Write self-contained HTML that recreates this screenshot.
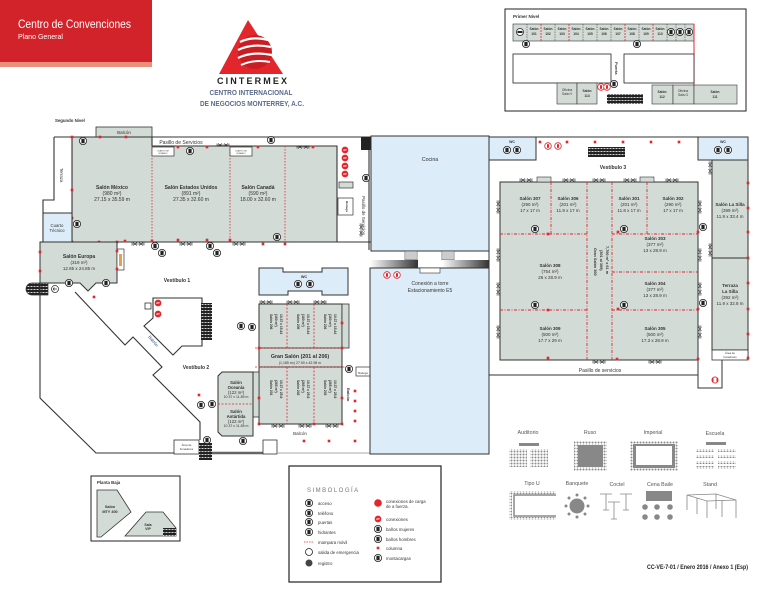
<!DOCTYPE html>
<html><head><meta charset="utf-8"><style>
html,body{margin:0;padding:0;background:#fff;}
svg{display:block;}
text{font-family:"Liberation Sans",sans-serif;}
.b{font-weight:bold;}
</style></head><body>
<svg width="772" height="595" viewBox="0 0 772 595" xmlns="http://www.w3.org/2000/svg">
<defs>
<pattern id="dots" width="3" height="3" patternUnits="userSpaceOnUse"><circle cx="1.5" cy="1.5" r="1" fill="#8a8a8a"/></pattern>
<pattern id="hatch" width="3" height="3" patternUnits="userSpaceOnUse"><rect width="3" height="3" fill="#222"/><rect x="0.5" y="1" width="2" height="0.8" fill="#fff"/></pattern>
<linearGradient id="gr" x1="0" x2="1" y1="0" y2="0"><stop offset="0" stop-color="#fff"/><stop offset="1" stop-color="#333"/></linearGradient>
<g id="ic"><circle r="3.6" fill="#fff" stroke="#222" stroke-width="0.8"/><rect x="-1.6" y="-2.2" width="3.2" height="4.4" fill="#222"/></g>
<g id="at"><circle r="3.6" fill="#e3262d" stroke="#fff" stroke-width="0.5"/><text x="0" y="1.2" font-size="3" fill="#fff" text-anchor="middle" class="b">AT</text></g>
<g id="ex"><circle r="3.3" fill="#fff" stroke="#e3262d" stroke-width="0.8"/><rect x="-1" y="-1.8" width="2" height="3.6" fill="#e3262d"/></g>
<rect id="rd" x="-1.3" y="-1.3" width="2.6" height="2.6" fill="#e3262d"/>
<g id="dh"><path d="M-6,-1.5 V1.5 M6,-1.5 V1.5 M-6,0 H6 M-5,-1.5 L-1,1.5 M-1,-1.5 L-5,1.5 M1,-1.5 L5,1.5 M5,-1.5 L1,1.5" stroke="#333" stroke-width="0.6" fill="none"/></g>
<g id="dv"><path d="M-1.5,-6 H1.5 M-1.5,6 H1.5 M0,-6 V6 M-1.5,-5 L1.5,-1 M1.5,-5 L-1.5,-1 M-1.5,1 L1.5,5 M1.5,1 L-1.5,5" stroke="#333" stroke-width="0.6" fill="none"/></g>
</defs>

<!-- HEADER -->
<rect x="0" y="0" width="152" height="62" fill="#d2232a"/>
<rect x="0" y="62" width="152" height="5" fill="#e8907e"/>
<text x="18" y="28" font-size="12" fill="#fff" textLength="113" lengthAdjust="spacingAndGlyphs">Centro de Convenciones</text>
<text x="18" y="39" font-size="7.5" fill="#fff" textLength="45" lengthAdjust="spacingAndGlyphs">Plano General</text>

<!-- LOGO -->
<polygon points="248,20 219,74 283,74" fill="#e2262b"/>
<circle cx="255" cy="52" r="17" fill="#c91d23"/>
<path d="M240,42 Q252,36 268,40" stroke="#fff" stroke-width="2.2" fill="none"/>
<path d="M238,50 Q252,43 271,47" stroke="#fff" stroke-width="2.2" fill="none"/>
<path d="M238,58 Q252,51 272,55" stroke="#fff" stroke-width="2.2" fill="none"/>
<path d="M241,65 Q254,59 270,62" stroke="#fff" stroke-width="2" fill="none"/>
<text x="252" y="84" font-size="9" class="b" fill="#222" text-anchor="middle" textLength="70" lengthAdjust="spacing">CINTERMEX</text>
<text x="251" y="95" font-size="7.5" class="b" fill="#5b6b8c" text-anchor="middle" textLength="83" lengthAdjust="spacingAndGlyphs">CENTRO INTERNACIONAL</text>
<text x="252" y="106" font-size="7.5" class="b" fill="#5b6b8c" text-anchor="middle" textLength="104" lengthAdjust="spacingAndGlyphs">DE NEGOCIOS MONTERREY, A.C.</text>

<!-- PRIMER NIVEL -->
<rect x="505" y="9" width="241" height="102" fill="#fff" stroke="#222" stroke-width="1"/>
<text x="513" y="18" font-size="4.5" class="b" fill="#333">Primer Nivel</text>
<rect x="513" y="24" width="181" height="17" fill="#d3dbd6" stroke="#333" stroke-width="0.6"/>
<g stroke="#333" stroke-width="0.5" stroke-dasharray="1.5,1">
<line x1="527" y1="24" x2="527" y2="41"/><line x1="555" y1="24" x2="555" y2="41"/><line x1="583" y1="24" x2="583" y2="41"/><line x1="597" y1="24" x2="597" y2="41"/><line x1="611" y1="24" x2="611" y2="41"/><line x1="639" y1="24" x2="639" y2="41"/><line x1="667" y1="24" x2="667" y2="41"/><line x1="676" y1="24" x2="676" y2="41"/><line x1="685" y1="24" x2="685" y2="41"/>
</g>
<g stroke="#e3262d" stroke-width="0.8" stroke-dasharray="2,1">
<line x1="541" y1="24" x2="541" y2="41"/><line x1="569" y1="24" x2="569" y2="41"/><line x1="625" y1="24" x2="625" y2="41"/><line x1="653" y1="24" x2="653" y2="41"/>
</g>
<g font-size="3.3" class="b" fill="#333" text-anchor="middle">
<text x="534" y="30">Salón</text><text x="534" y="35">101</text>
<text x="548" y="30">Salón</text><text x="548" y="35">102</text>
<text x="562" y="30">Salón</text><text x="562" y="35">103</text>
<text x="576" y="30">Salón</text><text x="576" y="35">104</text>
<text x="590" y="30">Salón</text><text x="590" y="35">105</text>
<text x="604" y="30">Salón</text><text x="604" y="35">106</text>
<text x="618" y="30">Salón</text><text x="618" y="35">107</text>
<text x="632" y="30">Salón</text><text x="632" y="35">108</text>
<text x="646" y="30">Salón</text><text x="646" y="35">109</text>
<text x="660" y="30">Salón</text><text x="660" y="35">110</text>
</g>
<circle cx="520" cy="32" r="3.5" fill="#fff" stroke="#222" stroke-width="0.8"/><rect x="517.5" y="31" width="5" height="2" fill="#222"/>
<use href="#ic" x="671" y="32"/><use href="#ic" x="680" y="32"/><use href="#ic" x="689" y="32"/>
<use href="#ic" x="526" y="44"/><use href="#ic" x="637" y="44"/>
<line x1="694" y1="24" x2="694" y2="86" stroke="#e3262d" stroke-width="1"/>
<rect x="513" y="54" width="98" height="29" fill="#fff" stroke="#222" stroke-width="0.8"/>
<rect x="624" y="54" width="70" height="29" fill="#fff" stroke="#222" stroke-width="0.8"/>
<text x="615" y="62" font-size="4" class="b" fill="#333" transform="rotate(90 615 62)">Puerta</text>
<use href="#ex" x="601" y="87"/><use href="#ex" x="607" y="87"/><use href="#ic" x="614" y="84"/>
<rect x="557" y="83" width="20" height="21" fill="#d3dbd6" stroke="#333" stroke-width="0.6"/>
<rect x="577" y="83" width="20" height="21" fill="#d3dbd6" stroke="#333" stroke-width="0.6"/>
<text x="567" y="91" font-size="3.3" fill="#333" text-anchor="middle">Oficina</text><text x="567" y="95" font-size="3.3" fill="#333" text-anchor="middle">Sala H</text>
<text x="587" y="92" font-size="3.3" class="b" fill="#333" text-anchor="middle">Salón</text><text x="587" y="97" font-size="3.3" class="b" fill="#333" text-anchor="middle">113</text>
<rect x="607" y="94" width="36" height="10" fill="url(#hatch)"/>
<rect x="652" y="85" width="21" height="19" fill="#d3dbd6" stroke="#333" stroke-width="0.6"/>
<rect x="673" y="85" width="21" height="19" fill="#d3dbd6" stroke="#333" stroke-width="0.6"/>
<rect x="694" y="85" width="43" height="19" fill="#d3dbd6" stroke="#333" stroke-width="0.6"/>
<text x="662" y="93" font-size="3.3" class="b" fill="#333" text-anchor="middle">Salón</text><text x="662" y="98" font-size="3.3" class="b" fill="#333" text-anchor="middle">112</text>
<text x="683" y="92" font-size="3.3" fill="#333" text-anchor="middle">Oficina</text><text x="683" y="96" font-size="3.3" fill="#333" text-anchor="middle">Sala G</text>
<text x="715" y="93" font-size="3.3" class="b" fill="#333" text-anchor="middle">Salón</text><text x="715" y="98" font-size="3.3" class="b" fill="#333" text-anchor="middle">111</text>

<!-- SEGUNDO NIVEL LABEL -->
<text x="55" y="122" font-size="4.3" class="b" fill="#333">Segundo Nivel</text>

<!-- LEFT WING (Mexico/EU/Canada) -->
<rect x="96" y="127" width="56" height="10" fill="#d3dbd6" stroke="#333" stroke-width="0.8"/>
<text x="124" y="134" font-size="4.5" fill="#333" text-anchor="middle">Balcón</text>
<rect x="72" y="137" width="80" height="105" fill="#d3dbd6"/>
<rect x="152" y="146" width="78" height="96" fill="#d3dbd6"/>
<rect x="230" y="146" width="55" height="96" fill="#d3dbd6"/>
<rect x="285" y="146" width="52" height="96" fill="#d3dbd6"/>
<g stroke="#333" stroke-width="1.1" fill="none">
<path d="M54,137 H372"/>
<path d="M54,137 V200 H43 V242"/>
<path d="M72,137 V242"/>
<path d="M152,146 H337 V242"/>
<path d="M40,242 H372"/>
<path d="M152,137 V146"/>
<path d="M369,150 V250"/>
</g>
<g stroke="#e3262d" stroke-width="0.8" stroke-dasharray="1.5,1.5">
<line x1="152" y1="146" x2="152" y2="242"/><line x1="230" y1="146" x2="230" y2="242"/><line x1="285" y1="146" x2="285" y2="242"/>
</g>
<rect x="361" y="137" width="11" height="13" fill="#222"/>
<rect x="152" y="147" width="22" height="9" fill="#fff" stroke="#333" stroke-width="0.7"/>
<rect x="230" y="147" width="22" height="9" fill="#fff" stroke="#333" stroke-width="0.7"/>
<text x="163" y="151.5" font-size="2" fill="#333" text-anchor="middle">CUARTO DE</text><text x="163" y="154" font-size="2" fill="#333" text-anchor="middle">BOMBEO</text>
<text x="241" y="151.5" font-size="2" fill="#333" text-anchor="middle">CUARTO DE</text><text x="241" y="154" font-size="2" fill="#333" text-anchor="middle">BOMBEO</text>
<text x="181" y="144" font-size="5" fill="#333" text-anchor="middle">Pasillo de Servicios</text>
<text x="60" y="168" font-size="4.3" fill="#333" transform="rotate(90 60 168)">Terraza</text>
<g font-size="5" fill="#333" text-anchor="middle">
<text x="112" y="189" class="b">Salón México</text><text x="112" y="195">(980 m²)</text><text x="112" y="201">27.15 x 35.59 m</text>
<text x="191" y="189" class="b">Salón Estados Unidos</text><text x="191" y="195">(891 m²)</text><text x="191" y="201">27.35 x 32.60 m</text>
<text x="258" y="189" class="b">Salón Canadá</text><text x="258" y="195">(590 m²)</text><text x="258" y="201">18.00 x 32.60 m</text>
</g>
<use href="#at" x="345" y="150"/><use href="#at" x="345" y="158"/><use href="#at" x="345" y="166"/><use href="#at" x="345" y="174"/>
<rect x="339" y="182" width="14" height="6" fill="#d3dbd6" stroke="#333" stroke-width="0.7"/>
<rect x="338" y="198" width="15" height="17" fill="#fff" stroke="#333" stroke-width="0.7"/>
<text x="346" y="201" font-size="3" class="b" fill="#333" transform="rotate(90 346 201)">Bodega</text>
<text x="362" y="196" font-size="4.5" fill="#333" transform="rotate(90 362 196)">Pasillo de Servicios</text>
<use href="#ic" x="83" y="141"/><use href="#ic" x="190" y="151"/><use href="#ic" x="271" y="140"/><use href="#ic" x="77" y="224"/><use href="#ic" x="277" y="237"/><use href="#ic" x="366" y="178"/>
<use href="#ic" x="155" y="246"/><use href="#ic" x="210" y="246"/><use href="#ic" x="162" y="253"/><use href="#ic" x="217" y="253"/>
<use href="#dh" x="223" y="145"/><use href="#dh" x="303" y="147"/><use href="#dh" x="138" y="244"/><use href="#dh" x="186" y="244"/><use href="#dh" x="239" y="244"/><use href="#dv" x="361" y="230"/>
<g>
<use href="#rd" x="72" y="137"/><use href="#rd" x="100" y="137"/><use href="#rd" x="126" y="137"/><use href="#rd" x="72" y="190"/><use href="#rd" x="72" y="218"/><use href="#rd" x="72" y="242"/><use href="#rd" x="99" y="242"/><use href="#rd" x="117" y="242"/><use href="#rd" x="125" y="241"/><use href="#rd" x="152" y="241"/><use href="#rd" x="178" y="240"/><use href="#rd" x="207" y="240"/><use href="#rd" x="230" y="240"/><use href="#rd" x="263" y="244"/><use href="#rd" x="285" y="244"/><use href="#rd" x="178" y="147"/><use href="#rd" x="207" y="147"/><use href="#rd" x="258" y="147"/><use href="#rd" x="313" y="147"/>
</g>

<!-- Cuarto tecnico / Europa -->
<rect x="43" y="213" width="29" height="29" fill="#dcedf9" stroke="#333" stroke-width="1"/>
<text x="57" y="227" font-size="4.3" fill="#333" text-anchor="middle">Cuarto</text><text x="57" y="232" font-size="4.3" fill="#333" text-anchor="middle">Técnico</text>
<polygon points="40,242 117,242 117,283 96,283 88,291 80,283 40,283" fill="#d3dbd6" stroke="#333" stroke-width="1"/>
<text x="79" y="258" font-size="5" class="b" fill="#333" text-anchor="middle">Salón Europa</text>
<text x="79" y="264" font-size="4.5" fill="#333" text-anchor="middle">(319 m²)</text>
<text x="79" y="270" font-size="4.5" fill="#333" text-anchor="middle">12.85 x 24.85 m</text>
<rect x="117" y="249" width="7" height="21" fill="#fff" stroke="#333" stroke-width="0.7"/>
<rect x="119" y="254" width="3" height="12" fill="#e8a04a"/>
<use href="#rd" x="40" y="252"/><use href="#rd" x="40" y="271"/><use href="#rd" x="117" y="251"/><use href="#rd" x="117" y="269"/><use href="#rd" x="94" y="297"/>
<use href="#ic" x="69" y="283"/><use href="#ic" x="106" y="283"/>
<path d="M32,283 H48 V295 H32 A6,6 0 0 1 32,283 Z" fill="url(#hatch)" stroke="#333" stroke-width="0.7"/>
<circle cx="55" cy="289" r="3.5" fill="#fff" stroke="#333" stroke-width="0.8"/><path d="M53,289 H57 M53,289 L54.5,287.5 M53,289 L54.5,290.5" stroke="#333" stroke-width="0.7"/>

<!-- Vestibulo outlines -->
<g stroke="#333" stroke-width="1.1" fill="none">
<path d="M40,283 V398 L96,453 H174"/>
<path d="M75,292 L125,345 L133,337 L162,367 L153,375 L200,422 V440"/>
<path d="M153,298 H202 V346 H182 L173,355 L144,326 L153,318 Z"/>
</g>
<rect x="201" y="303" width="11" height="37" fill="url(#hatch)"/>
<rect x="145" y="303" width="6" height="6" fill="#fff" stroke="#333" stroke-width="0.8"/>
<use href="#at" x="158" y="303"/><use href="#at" x="158" y="314"/>
<text x="177" y="282" font-size="5" class="b" fill="#333" text-anchor="middle">Vestíbulo 1</text>
<text x="196" y="369" font-size="5" class="b" fill="#333" text-anchor="middle">Vestíbulo 2</text>
<text x="148" y="337" font-size="4.3" fill="#2a4a8a" transform="rotate(50 148 337)">Balcón</text>
<rect x="174" y="440" width="25" height="14" fill="#fff" stroke="#333" stroke-width="0.8"/>
<text x="186.5" y="446" font-size="2.8" fill="#333" text-anchor="middle">Área de</text><text x="186.5" y="450" font-size="2.8" fill="#333" text-anchor="middle">fumadores</text>
<rect x="199" y="443" width="13" height="17" fill="url(#hatch)"/>
<line x1="212" y1="453" x2="263" y2="453" stroke="#666" stroke-width="2.5"/>
<rect x="263" y="440" width="14" height="14" fill="#fff" stroke="#333" stroke-width="0.8"/>
<line x1="277" y1="453" x2="371" y2="453" stroke="#aaa" stroke-width="1"/>
<use href="#ic" x="207" y="440"/><use href="#ic" x="243" y="441"/><use href="#ic" x="241" y="326"/><use href="#ic" x="252" y="327"/><use href="#ic" x="201" y="405"/><use href="#ic" x="212" y="404"/>

<!-- WC mid -->
<path d="M259,268 H283 V272 H322 V268 H348 V295 H322 V291 H288 V295 H259 Z" fill="#dcedf9" stroke="#333" stroke-width="1"/>
<text x="304" y="278" font-size="3.8" class="b" fill="#333" text-anchor="middle">WC</text>
<use href="#ic" x="298" y="284"/><use href="#ic" x="310" y="284"/>

<!-- GRAN SALON -->
<rect x="259" y="304" width="83" height="44" fill="#d3dbd6" stroke="#333" stroke-width="1"/>
<rect x="342" y="304" width="7" height="44" fill="#d3dbd6" stroke="#333" stroke-width="0.8"/>
<rect x="259" y="348" width="83" height="19" fill="#d3dbd6" stroke="#333" stroke-width="1"/>
<rect x="259" y="367" width="83" height="57" fill="#d3dbd6" stroke="#333" stroke-width="1"/>
<rect x="253" y="372" width="6" height="45" fill="#d3dbd6" stroke="#333" stroke-width="0.8"/>
<g stroke="#e3262d" stroke-width="0.8" stroke-dasharray="2,1.5">
<line x1="287" y1="304" x2="287" y2="348"/><line x1="314" y1="304" x2="314" y2="348"/>
<line x1="287" y1="367" x2="287" y2="424"/><line x1="314" y1="367" x2="314" y2="424"/>
<line x1="255" y1="348" x2="346" y2="348"/><line x1="255" y1="367" x2="346" y2="367"/>
</g>
<use href="#dh" x="266" y="302"/><use href="#dh" x="293" y="302"/><use href="#dh" x="320" y="302"/>
<use href="#dh" x="278" y="426"/><use href="#dh" x="305" y="426"/><use href="#dh" x="332" y="426"/>
<text x="300" y="358" font-size="5.3" class="b" fill="#333" text-anchor="middle">Gran Salón (201 al 206)</text>
<text x="300" y="364" font-size="3.5" fill="#333" text-anchor="middle">(1,185 m²) 27.50 x 42.98 m</text>
<g font-size="3.3" class="b" fill="#333">
<text x="270" y="314" transform="rotate(90 270 314)">Salón 206</text><text x="275" y="314" transform="rotate(90 275 314)">(160 m²)</text><text x="280" y="314" transform="rotate(90 280 314)">10.37 x 15.44</text>
<text x="297" y="314" transform="rotate(90 297 314)">Salón 205</text><text x="302" y="314" transform="rotate(90 302 314)">(160 m²)</text><text x="307" y="314" transform="rotate(90 307 314)">10.37 x 15.44</text>
<text x="324" y="314" transform="rotate(90 324 314)">Salón 204</text><text x="329" y="314" transform="rotate(90 329 314)">(160 m²)</text><text x="334" y="314" transform="rotate(90 334 314)">10.37 x 15.44</text>
<text x="270" y="380" transform="rotate(90 270 380)">Salón 201</text><text x="275" y="380" transform="rotate(90 275 380)">(265 m²)</text><text x="280" y="380" transform="rotate(90 280 380)">10.37 x 25.6</text>
<text x="297" y="380" transform="rotate(90 297 380)">Salón 202</text><text x="302" y="380" transform="rotate(90 302 380)">(265 m²)</text><text x="307" y="380" transform="rotate(90 307 380)">10.37 x 25.6</text>
<text x="324" y="380" transform="rotate(90 324 380)">Salón 203</text><text x="329" y="380" transform="rotate(90 329 380)">(265 m²)</text><text x="334" y="380" transform="rotate(90 334 380)">10.37 x 25.6</text>
</g>
<polygon points="222,372 253,372 253,436 222,436 218,432 218,376" fill="#d3dbd6" stroke="#333" stroke-width="1"/>
<line x1="218" y1="404" x2="253" y2="404" stroke="#e3262d" stroke-width="0.8" stroke-dasharray="2,1.5"/>
<g font-size="4.3" fill="#333" text-anchor="middle">
<text x="236" y="384" class="b">Salón</text><text x="236" y="389" class="b">Oceanía</text><text x="236" y="394">(122 m²)</text><text x="236" y="398" font-size="3.5">10.37 x 11.85 m</text>
<text x="236" y="413" class="b">Salón</text><text x="236" y="418" class="b">Antártida</text><text x="236" y="423">(122 m²)</text><text x="236" y="427" font-size="3.5">10.37 x 11.85 m</text>
</g>
<text x="300" y="435" font-size="4.5" fill="#333" text-anchor="middle">Balcón</text>
<text x="347" y="388" font-size="4" class="b" fill="#333" transform="rotate(90 347 388)">Balcón</text>
<rect x="356" y="367" width="14" height="9" fill="#fff" stroke="#333" stroke-width="0.7"/>
<text x="363" y="374" font-size="2.8" fill="#333" text-anchor="middle">Bodega</text>
<use href="#ic" x="349" y="369"/>
<use href="#rd" x="342" y="323"/><use href="#rd" x="259" y="348"/><use href="#rd" x="342" y="348"/><use href="#rd" x="259" y="398"/><use href="#rd" x="342" y="398"/><use href="#rd" x="259" y="424"/><use href="#rd" x="314" y="424"/><use href="#rd" x="342" y="424"/>
<use href="#rd" x="355" y="391"/><use href="#rd" x="355" y="401"/><use href="#rd" x="355" y="411"/><use href="#rd" x="355" y="421"/><use href="#rd" x="355" y="441"/><use href="#rd" x="329" y="441"/><use href="#rd" x="304" y="441"/><use href="#rd" x="199" y="395"/>

<!-- COCINA / CONEXION -->
<rect x="371" y="136" width="118" height="115" fill="#dcedf9" stroke="#333" stroke-width="1"/>
<text x="430" y="161" font-size="5.3" fill="#333" text-anchor="middle">Cocina</text>
<rect x="405" y="251" width="12" height="9" fill="#fff" stroke="#333" stroke-width="0.6"/>
<rect x="442" y="251" width="12" height="9" fill="#fff" stroke="#333" stroke-width="0.6"/>
<g stroke="#333" stroke-width="0.5"><path d="M407,251 V260 M409,251 V260 M411,251 V260 M413,251 V260 M415,251 V260 M444,251 V260 M446,251 V260 M448,251 V260 M450,251 V260 M452,251 V260"/></g>
<rect x="370" y="260" width="48" height="8" fill="url(#gr)"/>
<rect x="442" y="260" width="47" height="8" fill="url(#gr)"/>
<rect x="370" y="268" width="119" height="186" fill="#dcedf9" stroke="#333" stroke-width="1"/>
<rect x="420" y="268" width="20" height="5" fill="#fff" stroke="#333" stroke-width="0.6"/>
<use href="#ex" x="387" y="275"/><use href="#ex" x="397" y="275"/>
<text x="430" y="285" font-size="5" fill="#333" text-anchor="middle">Conexión a torre</text>
<text x="430" y="292" font-size="5" fill="#333" text-anchor="middle">Estacionamiento E5</text>

<!-- 300 AREA -->
<g stroke="#333" stroke-width="1" fill="none">
<path d="M536,137 H698"/>
<path d="M748,137 V360"/>
<path d="M489,251 V268"/>
<path d="M489,375 H698"/>
<path d="M698,360 V388 H722 V360"/>
</g>
<rect x="489" y="137" width="47" height="23" fill="#dcedf9" stroke="#333" stroke-width="1"/>
<rect x="698" y="137" width="50" height="23" fill="#dcedf9" stroke="#333" stroke-width="1"/>
<text x="512" y="143" font-size="3.5" class="b" fill="#333" text-anchor="middle">WC</text>
<use href="#ic" x="507" y="150"/><use href="#ic" x="517" y="150"/>
<text x="723" y="143" font-size="3.5" class="b" fill="#333" text-anchor="middle">WC</text>
<use href="#ic" x="718" y="150"/><use href="#ic" x="728" y="150"/>
<use href="#ex" x="548" y="146"/><use href="#ex" x="558" y="146"/>
<rect x="588" y="147" width="37" height="10" fill="url(#hatch)"/>
<text x="613" y="169" font-size="5" class="b" fill="#333" text-anchor="middle">Vestíbulo 3</text>
<rect x="500" y="182" width="198" height="178" fill="#d3dbd6" stroke="#333" stroke-width="1"/>
<rect x="537" y="177" width="14" height="5" fill="#d3dbd6" stroke="#333" stroke-width="0.6"/>
<rect x="640" y="177" width="14" height="5" fill="#d3dbd6" stroke="#333" stroke-width="0.6"/>
<g stroke="#e3262d" stroke-width="0.9" stroke-dasharray="3,1.5,1,1.5">
<line x1="551" y1="182" x2="551" y2="234"/><line x1="647" y1="182" x2="647" y2="234"/>
<line x1="587" y1="182" x2="587" y2="360"/><line x1="612" y1="182" x2="612" y2="360"/>
<line x1="500" y1="234" x2="587" y2="234"/><line x1="612" y1="234" x2="698" y2="234"/>
<line x1="612" y1="272" x2="698" y2="272"/>
<line x1="500" y1="310" x2="587" y2="310"/><line x1="612" y1="310" x2="698" y2="310"/>
</g>
<use href="#dh" x="526" y="180"/><use href="#dh" x="569" y="180"/><use href="#dh" x="599" y="180"/><use href="#dh" x="630" y="180"/><use href="#dh" x="672" y="180"/>
<use href="#dh" x="599" y="362"/><use href="#dh" x="655" y="362"/>
<use href="#dv" x="498" y="207"/><use href="#dv" x="498" y="255"/><use href="#dv" x="498" y="289"/><use href="#dv" x="498" y="332"/>
<use href="#dv" x="700" y="207"/><use href="#dv" x="700" y="255"/><use href="#dv" x="700" y="289"/><use href="#dv" x="700" y="332"/>
<use href="#dv" x="710" y="168"/><use href="#dv" x="710" y="250"/>
<g font-size="4.5" fill="#333" text-anchor="middle">
<text x="530" y="200" class="b">Salón 307</text><text x="530" y="206">(290 m²)</text><text x="530" y="212">17 x 17 m</text>
<text x="568" y="200" class="b">Salón 306</text><text x="568" y="206">(201 m²)</text><text x="568" y="212">11.9 x 17 m</text>
<text x="629" y="200" class="b">Salón 301</text><text x="629" y="206">(201 m²)</text><text x="629" y="212">11.8 x 17 m</text>
<text x="673" y="200" class="b">Salón 302</text><text x="673" y="206">(290 m²)</text><text x="673" y="212">17 x 17 m</text>
<text x="655" y="240" class="b">Salón 303</text><text x="655" y="246">(377 m²)</text><text x="655" y="252">13 x 28.9 m</text>
<text x="550" y="267" class="b">Salón 308</text><text x="550" y="273">(754 m²)</text><text x="550" y="279">26 x 28.9 m</text>
<text x="655" y="285" class="b">Salón 304</text><text x="655" y="291">(377 m²)</text><text x="655" y="297">13 x 28.9 m</text>
<text x="550" y="330" class="b">Salón 309</text><text x="550" y="336">(500 m²)</text><text x="550" y="342">17.7 x 29 m</text>
<text x="655" y="330" class="b">Salón 305</text><text x="655" y="336">(500 m²)</text><text x="655" y="342">17.3 x 28.9 m</text>
</g>
<g font-size="3.8" class="b" fill="#333">
<text x="594" y="248" transform="rotate(90 594 248)">Gran Salón 300</text>
<text x="600" y="250" transform="rotate(90 600 250)">(301 al 309)</text>
<text x="606" y="246" transform="rotate(90 606 246)">7,700 m² x 61 m</text>
</g>
<rect x="712" y="160" width="36" height="98" fill="#d3dbd6" stroke="#333" stroke-width="1"/>
<rect x="712" y="258" width="36" height="92" fill="#d3dbd6" stroke="#333" stroke-width="1"/>
<rect x="712" y="350" width="36" height="10" fill="#fff" stroke="#333" stroke-width="0.8"/>
<text x="730" y="354" font-size="2.8" fill="#333" text-anchor="middle">Área de</text><text x="730" y="358" font-size="2.8" fill="#333" text-anchor="middle">fumadores</text>
<g font-size="4.5" fill="#333" text-anchor="middle">
<text x="730" y="206" class="b">Salón La Silla</text><text x="730" y="212">(399 m²)</text><text x="730" y="218">11.9 x 33.4 m</text>
<text x="730" y="287" class="b">Terraza</text><text x="730" y="293" class="b">La Silla</text><text x="730" y="299">(392 m²)</text><text x="730" y="305">11.9 x 32.8 m</text>
</g>
<text x="600" y="372" font-size="5" fill="#333" text-anchor="middle">Pasillo de servicios</text>
<use href="#ic" x="535" y="229"/><use href="#ic" x="624" y="229"/><use href="#ic" x="535" y="305"/><use href="#ic" x="624" y="305"/><use href="#ic" x="703" y="227"/><use href="#ic" x="703" y="303"/>
<circle cx="715" cy="380" r="3.5" fill="#e3262d"/><rect x="713.5" y="377.5" width="3" height="5" fill="#fff"/>
<use href="#rd" x="548" y="234"/><use href="#rd" x="618" y="232"/><use href="#rd" x="698" y="232"/><use href="#rd" x="548" y="310"/><use href="#rd" x="618" y="309"/><use href="#rd" x="698" y="309"/><use href="#rd" x="548" y="358"/><use href="#rd" x="617" y="359"/><use href="#rd" x="698" y="359"/>
<use href="#rd" x="540" y="142"/><use href="#rd" x="567" y="142"/><use href="#rd" x="595" y="142"/><use href="#rd" x="623" y="142"/><use href="#rd" x="651" y="142"/><use href="#rd" x="679" y="142"/>
<use href="#rd" x="748" y="183"/><use href="#rd" x="748" y="208"/><use href="#rd" x="748" y="232"/><use href="#rd" x="748" y="258"/><use href="#rd" x="748" y="283"/><use href="#rd" x="748" y="309"/><use href="#rd" x="748" y="334"/><use href="#rd" x="748" y="358"/>

<!-- PLANTA BAJA -->
<rect x="91" y="476" width="89" height="65" fill="#fff" stroke="#222" stroke-width="1"/>
<text x="97" y="484" font-size="4.3" class="b" fill="#333">Planta Baja</text>
<polygon points="97,490 117,490 131,512 101,537 97,537" fill="#d3dbd6" stroke="#333" stroke-width="0.8"/>
<text x="110" y="508" font-size="3.8" class="b" fill="#333" text-anchor="middle">Salón</text>
<text x="110" y="513" font-size="3.8" class="b" fill="#333" text-anchor="middle">MTY 400</text>
<polygon points="125,536 146,512 163,512 176,528 176,536" fill="#d3dbd6" stroke="#333" stroke-width="0.8"/>
<rect x="163" y="528" width="13" height="8" fill="url(#hatch)"/>
<text x="148" y="526" font-size="3.5" class="b" fill="#333" text-anchor="middle">Sala</text>
<text x="148" y="530" font-size="3.5" class="b" fill="#333" text-anchor="middle">VIP</text>

<!-- SIMBOLOGIA -->
<rect x="289" y="466" width="152" height="116" fill="#fff" stroke="#222" stroke-width="1.2"/>
<text x="307" y="492" font-size="6" fill="#777" letter-spacing="1.5">SIMBOLOGÍA</text>
<g font-size="4.3" fill="#333">
<use href="#ic" x="309" y="503"/><text x="318" y="505">acceso</text>
<use href="#ic" x="309" y="513"/><text x="318" y="515">teléfono</text>
<use href="#ic" x="309" y="522"/><text x="318" y="524">puertas</text>
<use href="#ic" x="309" y="532"/><text x="318" y="534">hidrantes</text>
<line x1="304" y1="542" x2="314" y2="542" stroke="#e3262d" stroke-width="0.8" stroke-dasharray="1.5,1"/><text x="318" y="544">mampara móvil</text>
<circle cx="309" cy="552" r="3.5" fill="#fff" stroke="#222" stroke-width="0.8"/><text x="318" y="554">salida de emergencia</text>
<circle cx="309" cy="563" r="3.5" fill="#444"/><text x="318" y="565">registro</text>
<circle cx="378" cy="503" r="3.8" fill="#e3262d"/><text x="386" y="503">conexiones de carga</text><text x="386" y="508">de a fuerza.</text>
<use href="#at" x="378" y="519"/><text x="386" y="521">conexiones</text>
<use href="#ic" x="378" y="529"/><text x="386" y="531">baños mujeres</text>
<use href="#ic" x="378" y="539"/><text x="386" y="541">baños hombres</text>
<use href="#rd" x="378" y="548"/><text x="386" y="550">columna</text>
<use href="#ic" x="378" y="558"/><text x="386" y="560">montacargas</text>
</g>

<!-- SEATING DIAGRAMS -->
<g font-size="5.3" fill="#555" text-anchor="middle">
<text x="528" y="434">Auditorio</text><text x="590" y="434">Ruso</text><text x="653" y="434">Imperial</text><text x="715" y="435">Escuela</text>
<text x="532" y="485">Tipo U</text><text x="577" y="485">Banquete</text><text x="617" y="486">Coctel</text><text x="660" y="486">Cena Baile</text><text x="710" y="486">Stand</text>
</g>
<rect x="519" y="443" width="20" height="3" fill="#888"/>
<rect x="509" y="449" width="18" height="18" fill="url(#dots)"/><rect x="530" y="449" width="18" height="18" fill="url(#dots)"/>
<rect x="574" y="441" width="33" height="30" fill="url(#dots)"/><rect x="578" y="445" width="25" height="22" fill="#888"/>
<rect x="630" y="441" width="48" height="30" fill="url(#dots)"/><rect x="633" y="444" width="42" height="24" fill="#888"/><rect x="636" y="446" width="36" height="19" fill="#fff"/>
<rect x="706" y="442" width="20" height="3" fill="#888"/>
<g fill="url(#dots)"><rect x="696" y="449" width="18" height="3"/><rect x="718" y="449" width="18" height="3"/><rect x="696" y="455" width="18" height="3"/><rect x="718" y="455" width="18" height="3"/><rect x="696" y="461" width="18" height="3"/><rect x="718" y="461" width="18" height="3"/><rect x="696" y="466" width="18" height="3"/><rect x="718" y="466" width="18" height="3"/></g>
<rect x="512" y="491" width="44" height="3" fill="url(#dots)"/><rect x="512" y="517" width="44" height="3" fill="url(#dots)"/><rect x="509" y="491" width="3" height="29" fill="url(#dots)"/>
<path d="M556,495 H514 V516 H556" fill="none" stroke="#888" stroke-width="1.5"/>
<circle cx="577" cy="506" r="7.5" fill="#888"/>
<g fill="#888"><circle cx="577" cy="495" r="1.5"/><circle cx="577" cy="517" r="1.5"/><circle cx="566" cy="506" r="1.5"/><circle cx="588" cy="506" r="1.5"/><circle cx="569" cy="498" r="1.5"/><circle cx="585" cy="498" r="1.5"/><circle cx="569" cy="514" r="1.5"/><circle cx="585" cy="514" r="1.5"/></g>
<g stroke="#888" stroke-width="0.8" fill="none">
<path d="M600,494 H612 M606,494 V510 M603,510 H609"/>
<path d="M620,494 H632 M626,494 V510 M623,510 H629"/>
<path d="M608,502 H620 M614,502 V519 M611,519 H617"/>
</g>
<rect x="646" y="491" width="26" height="10" fill="#888"/>
<g fill="#888"><circle cx="645" cy="507" r="2.8"/><circle cx="657" cy="507" r="2.8"/><circle cx="670" cy="507" r="2.8"/><circle cx="645" cy="517" r="2.8"/><circle cx="657" cy="517" r="2.8"/><circle cx="670" cy="517" r="2.8"/></g>
<g stroke="#888" stroke-width="0.8" fill="none">
<path d="M687,495 L716,494 L736,500 L736,518 M687,495 V510 M687,495 L707,501 V518 M716,494 V509 M707,501 L736,500 M697,498 V514 M722,500 V517"/>
</g>

<text x="647" y="569" font-size="6.5" class="b" fill="#222" textLength="101" lengthAdjust="spacingAndGlyphs">CC-VE-7-01 / Enero 2016 / Anexo 1 (Esp)</text>
</svg>
</body></html>
